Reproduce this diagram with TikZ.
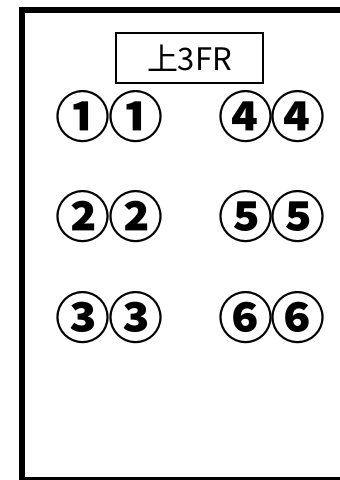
\documentclass[tikz,border=0pt]{standalone}
\usepackage{fontspec}
\newfontfamily\cjk{Noto Sans CJK JP}
\newcommand{\pairof}[1]{#1\kern-3pt#1}
\begin{document}
\begin{tikzpicture}[x=1pt,y=-1pt,
  titlebox/.style={draw,line width=1.5pt,minimum width=147pt,minimum height=50pt,inner sep=0pt,font=\cjk\fontsize{31}{31}\selectfont},
  circ/.style={inner sep=0pt,font=\cjk\bfseries\fontsize{55}{55}\selectfont}]
\useasboundingbox (0,0) rectangle (340,480);
\clip (0,0) rectangle (340,480);
\fill[white] (0,0) rectangle (340,480);
\draw[line width=6pt] (345,10) -- (22,10) -- (22,479.5) -- (345,479.5);
\node[titlebox] (t) at (189.5,58) {上3FR};
\node[circ] (c1) at (109.5,117) {\pairof{①}};
\node[circ] (c2) at (109.5,217) {\pairof{②}};
\node[circ] (c3) at (109.5,318) {\pairof{③}};
\node[circ] (c4) at (272,117) {\pairof{④}};
\node[circ] (c5) at (272,217) {\pairof{⑤}};
\node[circ] (c6) at (272,318) {\pairof{⑥}};
\end{tikzpicture}
\end{document}
